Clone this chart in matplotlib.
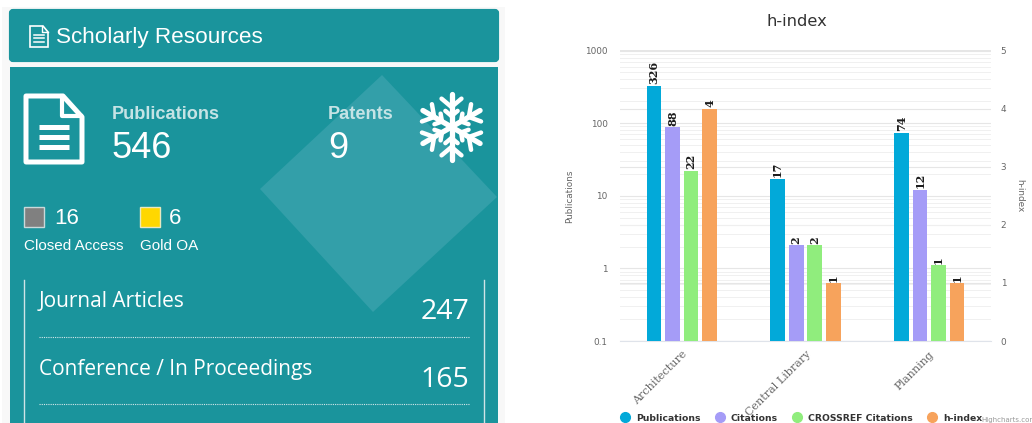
import numpy as np
import matplotlib
matplotlib.use("Agg")
import matplotlib.pyplot as plt
from matplotlib.lines import Line2D
from matplotlib.patches import Polygon, Rectangle, FancyBboxPatch

categories = ["Architecture", "Central Library", "Planning"]
publications = [326, 17, 74]
citations = [88, 2, 12]
crossref = [22, 2, 1]
hindex = [4, 1, 1]

series_names = ["Publications", "Citations", "CROSSREF Citations", "h-index"]
series_colors = ["#02a9d9", "#a59cf7", "#90ed7d", "#f7a35c"]

doc_types = ["Journal Articles", "Conference / In Proceedings"]
doc_counts = [247, 165]
n_publications = 546
n_patents = 9
n_closed = 16
n_gold = 6

TEAL = "#1a949c"
W, H = 1032, 423

fig = plt.figure(figsize=(W / 100, H / 100), dpi=100, facecolor="white")

# left panel, drawn in pixel coords
bg = fig.add_axes([0, 0, 1, 1])
bg.set_xlim(0, W)
bg.set_ylim(H, 0)
bg.axis("off")


def txt(x, y, s, size, color="white", family="Liberation Sans", **kw):
    kw.setdefault("va", "center")
    bg.text(x, y, s, fontsize=size, color=color, family=family, **kw)


bg.add_patch(Rectangle((2, 7), 503, 416, fc="#f8f8f8", ec="none"))
bg.add_patch(FancyBboxPatch((11, 11), 486, 49, boxstyle="round,pad=0,rounding_size=2",
                            fc=TEAL, ec=TEAL, lw=3))
bg.add_patch(Rectangle((10, 67), 488, 356, fc=TEAL, ec="none"))
bg.add_patch(Polygon([(382, 75), (497, 197), (373, 312), (260, 189)], fc="#339fa9", ec="none"))

# header icon
bg.add_patch(Polygon([(30, 26), (43, 26), (48, 32), (48, 47), (30, 47)], fc="none", ec="white", lw=1.2))
bg.plot([42, 42, 48], [26, 32, 32], color="white", lw=1)
for y in [35, 38.5, 42]:
    bg.plot([34, 44], [y, y], color="white", lw=1.1)
txt(56, 37.5, "Scholarly Resources", 16.2)

# big document icon
bg.add_patch(Polygon([(26, 96), (63, 96), (82, 117), (82, 162), (26, 162)], fc="none", ec="white",
                     lw=3.6, joinstyle="round"))
bg.plot([62, 62, 81], [96, 116, 116], color="white", lw=3)
for y in [127, 137, 147]:
    bg.plot([39, 69], [y, y], color="white", lw=3.6, solid_capstyle="butt")

txt(111.5, 114.5, "Publications", 13.1, color="#c5e3e5", weight="bold")
txt(111.5, 149, str(n_publications), 26)
txt(328, 114.5, "Patents", 13.1, color="#c5e3e5", weight="bold")
txt(328, 149, str(n_patents), 26)

# snowflake
cx, cy = 451.5, 127
for a in np.radians(np.arange(0, 360, 60) + 90):
    ux, uy = np.cos(a), np.sin(a)
    bg.plot([cx, cx + 33 * ux], [cy, cy + 33 * uy], color="white", lw=3.8, solid_capstyle="round")
    for r, blen in [(20, 13), (11, 8)]:
        for d in [-50, 50]:
            b = a + np.radians(d)
            px, py = cx + r * ux, cy + r * uy
            bg.plot([px, px + blen * np.cos(b)], [py, py + blen * np.sin(b)], color="white", lw=3.2,
                    solid_capstyle="round")

# access boxes
bg.add_patch(Rectangle((24, 207), 20, 20, fc="#808080", ec="#c9d9da", lw=1))
txt(54, 218, str(n_closed), 16)
txt(24, 246, "Closed Access", 11)
bg.add_patch(Rectangle((140, 207), 20, 20, fc="#ffd700", ec="#e8e8c0", lw=1))
txt(168.5, 218, str(n_gold), 16)
txt(139.5, 246, "Gold OA", 11)

# document type list
bg.plot([24, 24], [280, H], color="#cfe4e6", lw=1)
bg.plot([484, 484], [280, H], color="#cfe4e6", lw=1)
for name, count, ty, cy2, ly in zip(doc_types, doc_counts, [301.5, 370], [312, 380], [337, 404]):
    txt(39, ty, name, 15, family="Open Sans")
    txt(469, cy2, str(count), 20.5, family="Open Sans", ha="right")
    bg.plot([39, 469], [ly, ly], color="#d5e8ea", lw=0.8, ls=(0, (1, 1)))

# chart on the right
left, right, top, bottom = 620, 991, 50.5, 341
ax = fig.add_axes([left / W, 1 - bottom / H, (right - left) / W, (bottom - top) / H])
ax.patch.set_alpha(0)
ax.set_yscale("log")
ax.set_ylim(0.1, 1000)
ax.set_xlim(-0.5, 2.5)

# ax2 has the h-index scale + grid, under ax; ax3 only holds the h-index bars, on top
ax2 = ax.twinx()
ax2.set_ylim(0, 5)
ax2.set_yticks(range(6))
ax3 = ax.twinx()
ax3.set_ylim(0, 5)
ax3.axis("off")
ax2.set_zorder(1)
ax.set_zorder(2)
ax3.set_zorder(3)
ax2.patch.set_alpha(0)
ax3.patch.set_alpha(0)

x = np.arange(len(categories))
step = 0.15
bar_w = 0.118
label_font = dict(rotation=90, fontsize=8, family="DejaVu Serif", weight="bold", color="#1c1c1c", padding=1)
for i, (vals, axis) in enumerate(zip([publications, citations, crossref, hindex], [ax, ax, ax, ax3])):
    bars = axis.bar(x + (i - 1.5) * step, vals, bar_w, bottom=0.1 if axis is ax else 0,
                    color=series_colors[i], zorder=3)
    axis.bar_label(bars, labels=[str(v) for v in vals], **label_font)

ax.set_yticks([0.1, 1, 10, 100, 1000])
ax.set_yticklabels(["0.1", "1", "10", "100", "1000"])
ax.grid(True, which="major", axis="y", color="#e6e6e6", lw=0.8)
ax.grid(True, which="minor", axis="y", color="#f0f0f0", lw=0.7)
ax2.grid(True, axis="y", color="#e6e6e6", lw=0.8)
ax.set_axisbelow(True)
for a in [ax, ax2]:
    for s in a.spines.values():
        s.set_visible(False)
ax.tick_params(axis="y", which="both", length=0, labelsize=6.4, labelcolor="#666666", pad=9)
ax2.tick_params(axis="y", length=0, labelsize=6.4, labelcolor="#666666", pad=7)
ax.spines["bottom"].set_visible(True)
ax.spines["bottom"].set_color("#dfe3ea")
ax.set_xticks(x)
ax.set_xticklabels(categories, rotation=45, ha="right", rotation_mode="anchor",
                   family="DejaVu Serif", fontsize=8, color="#666666")
ax.tick_params(axis="x", length=0, pad=6)
ax.set_ylabel("Publications", fontsize=6.4, color="#666666", labelpad=8)
ax2.set_ylabel("h-index", fontsize=6.4, color="#666666", rotation=270, labelpad=13)
fig.text(796.7 / W, 1 - 21 / H, "h-index", fontsize=11.8, color="#333333", ha="center", va="center")

handles = [Line2D([], [], ls="none", marker="o", ms=7, color=c) for c in series_colors]
ax3.legend(handles, series_names, ncol=4, frameon=False, loc="center", bbox_to_anchor=(799 / W, 5 / H),
           bbox_transform=fig.transFigure, prop=dict(family="DejaVu Sans", weight="bold", size=6.7),
           labelcolor="#333333", handletextpad=0.2, columnspacing=1.05)

fig.text(981 / W, 1 - 420 / H, "Highcharts.com", fontsize=5, color="#999999", va="center")

fig.savefig("out.png", dpi=100)
